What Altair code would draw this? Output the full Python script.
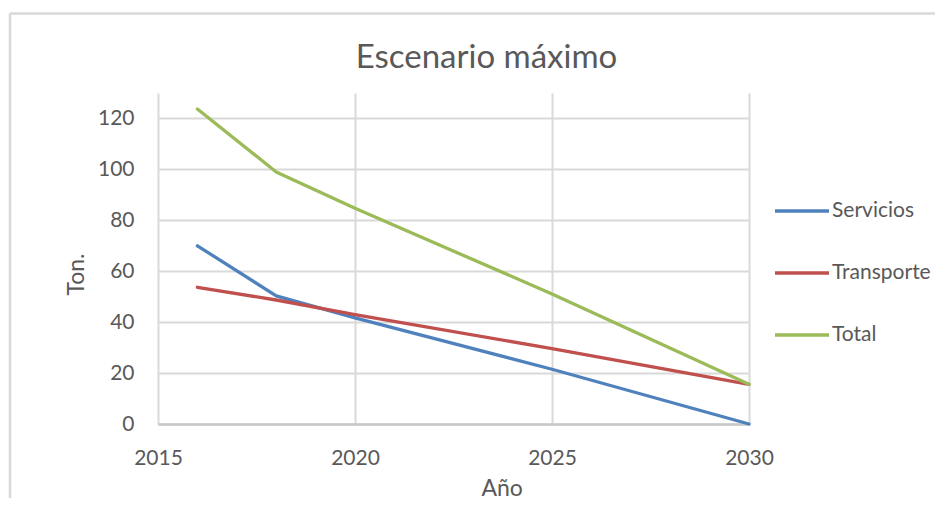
import altair as alt
import pandas as pd

years = [2016, 2018, 2020, 2025, 2030]
servicios = [70, 50.3, 41.7, 21.5, 0]
transporte = [53.7, 48.7, 43, 29.6, 15.6]
total = [123.7, 99, 84.7, 51.1, 15.6]

series_names = ["Servicios", "Transporte", "Total"]
colors = ["#4F81BD", "#C0504D", "#9BBB59"]
x_ticks = [2015, 2020, 2025, 2030]
y_ticks = [0, 20, 40, 60, 80, 100, 120]

rows = []
for name, vals in zip(series_names, [servicios, transporte, total]):
    for yr, v in zip(years, vals):
        rows.append({"anio": yr, "valor": v, "serie": name})
df = pd.DataFrame(rows)

FONT = "Lato"
TXT = "#595959"

lines = alt.Chart(df).mark_line(strokeWidth=3.3, interpolate="linear",
                                 strokeJoin="round", strokeCap="round").encode(
    x=alt.X("anio:Q",
            scale=alt.Scale(domain=[2015, 2030], nice=False, zero=False),
            axis=alt.Axis(values=x_ticks, format="d", title="Año", labelFlush=False,
                          titleX=343.7, titleY=71.3, titleBaseline="alphabetic",
                          titleAlign="center", titleAnchor="start")),
    y=alt.Y("valor:Q",
            scale=alt.Scale(domain=[0, 130], nice=False),
            axis=alt.Axis(values=y_ticks, title="Ton.", labelFlush=False,
                          titleX=-75, titleY=181, titleBaseline="alphabetic",
                          titleAlign="center", titleAnchor="start", domain=False)),
    color=alt.Color("serie:N",
                    scale=alt.Scale(domain=series_names, range=colors),
                    legend=alt.Legend(title=None, orient="none", legendX=615, legendY=89,
                                      symbolType="stroke", symbolSize=2916,
                                      symbolStrokeWidth=3.3, labelOffset=1,
                                      rowPadding=23, labelFontSize=21,
                                      labelFont=FONT, labelColor=TXT)),
    order=alt.Order("anio:Q"),
)

border = alt.Chart(pd.DataFrame({"a": [0]})).mark_rule(color="#d9d9d9", strokeWidth=2.5)
left_edge = border.encode(x=alt.value(-148), y=alt.value(-79.5), y2=alt.value(420))
top_edge = border.encode(x=alt.value(-148), x2=alt.value(800), y=alt.value(-79.5))

chart = alt.layer(left_edge, top_edge, lines).properties(
    width=591,
    height=331,
    title=alt.TitleParams("Escenario máximo", font=FONT, fontSize=33, fontWeight="normal",
                          color=TXT, anchor="middle", frame="group", dx=33,
                          baseline="alphabetic", offset=-89),
    autosize=alt.AutoSizeParams(type="none"),
    padding={"left": 150, "top": 85, "right": 186, "bottom": 74},
).configure_view(stroke=None).configure_axis(
    labelFont=FONT, labelFontSize=21, labelColor=TXT,
    titleFont=FONT, titleFontSize=23, titleColor=TXT, titleFontWeight="normal",
    gridColor="#d9d9d9", gridWidth=2, ticks=False, labelPadding=23,
    domainColor="#c8c8c8", domainWidth=2.5,
).configure_axisY(labelPadding=24)

chart.save("out.html", embed_options={"renderer": "svg", "actions": False})
